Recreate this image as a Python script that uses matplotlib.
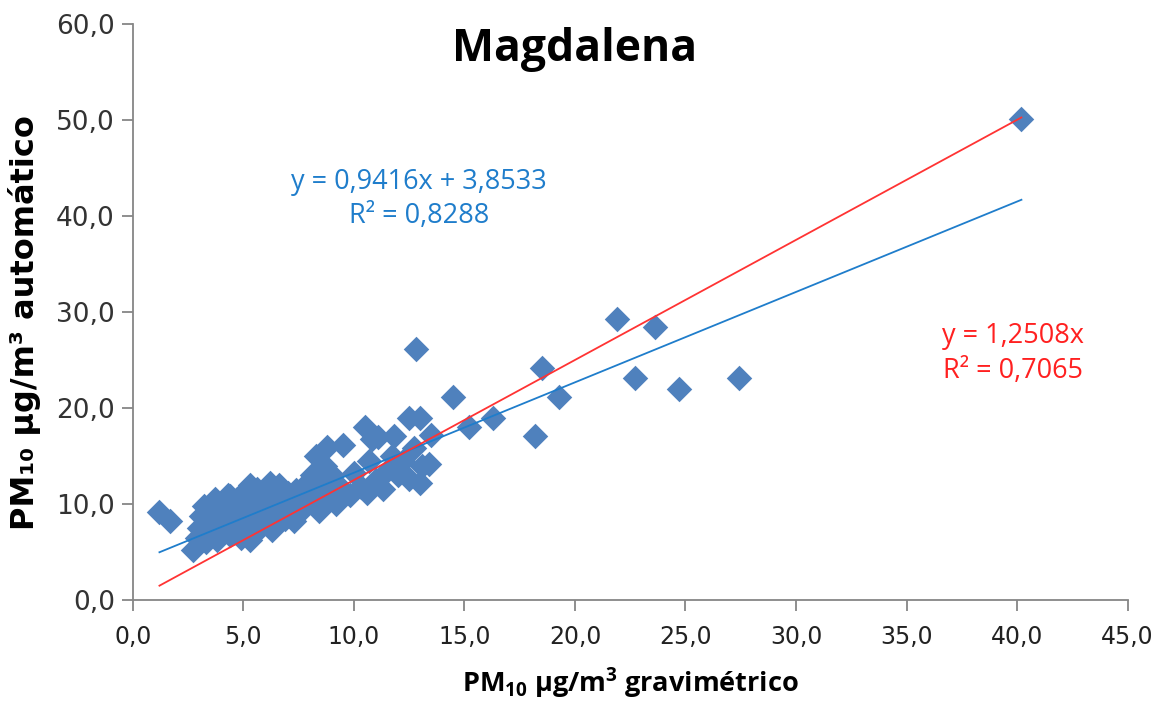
import numpy as np
import matplotlib
matplotlib.use('Agg')
import matplotlib.pyplot as plt

# PM10 gravimetric (x) vs automatic (y), Magdalena station
grav = [1.2, 1.7, 2.7, 2.9, 3.0, 3.1, 3.3, 3.4, 3.5, 3.6, 3.8, 3.9, 4.0, 4.1, 4.2, 4.3,
        4.4, 4.5, 4.6, 4.7, 4.8, 4.9, 5.0, 5.1, 5.2, 5.3, 5.3, 5.4, 5.5, 5.7, 5.8, 5.9,
        6.0, 6.1, 6.2, 6.3, 6.4, 6.5, 6.6, 6.8, 6.9, 7.0, 7.2, 7.3, 7.4, 7.5, 7.7, 7.8,
        8.0, 8.1, 8.2, 8.3, 8.4, 8.5, 8.6, 8.7, 8.8, 8.9, 9.0, 9.2, 9.3, 9.5, 9.8, 10.0,
        10.3, 10.5, 10.6, 10.7, 10.8, 11.0, 11.1, 11.3, 11.5, 11.7, 11.8, 12.0, 12.2,
        12.5, 12.5, 12.7, 13.0, 13.0, 13.1, 13.4, 13.5, 12.8, 14.5, 15.2, 16.3, 18.2,
        18.5, 19.3, 21.9, 22.7, 23.6, 24.7, 27.4, 40.2,
        3.2, 3.7, 4.4, 5.6, 6.7]
auto = [9.2, 8.2, 5.2, 6.5, 7.5, 8.8, 6.1, 7.2, 9.0, 8.0, 6.3, 7.5, 9.5, 10.2, 8.4, 11.0,
        6.8, 7.6, 9.0, 10.5, 8.2, 6.5, 11.2, 9.8, 7.3, 12.0, 6.3, 8.8, 10.6, 9.3, 7.6, 11.3,
        8.4, 10.0, 12.2, 7.3, 11.0, 9.0, 12.0, 10.3, 8.4, 11.2, 9.6, 8.2, 11.5, 10.5, 9.5, 12.0,
        10.8, 13.0, 11.8, 15.0, 9.3, 10.1, 12.5, 14.0, 16.0, 11.0, 13.0, 10.0, 12.0, 16.2, 11.0, 13.2,
        11.8, 18.0, 11.2, 14.5, 16.8, 12.5, 17.0, 11.6, 13.5, 15.0, 17.1, 13.0, 14.5,
        19.0, 12.6, 15.8, 19.0, 12.2, 14.0, 14.2, 17.2, 26.2, 21.2, 18.0, 19.0, 17.1,
        24.2, 21.2, 29.3, 23.1, 28.5, 22.0, 23.1, 50.1,
        9.8, 10.5, 10.8, 11.6, 11.7]

# trend lines as reported on the chart
lin_slope, lin_icpt = 0.9416, 3.8533
orig_slope = 1.2508

plt.rcParams['mathtext.fontset'] = 'custom'
plt.rcParams['mathtext.rm'] = 'Open Sans:bold'
plt.rcParams['mathtext.default'] = 'rm'

fig = plt.figure(figsize=(11.66, 7.11), dpi=100)
ax = fig.add_axes([0.114, 0.156, 0.853, 0.81])

ax.scatter(grav, auto, marker='D', s=13**2, color='#4F81BD', linewidths=0, zorder=2)

xx = np.array([min(grav), max(grav)])
ax.plot(xx, lin_slope * xx + lin_icpt, color='#1F7DCB', lw=1.3, zorder=3)
ax.plot(xx, orig_slope * xx, color='#FF3333', lw=1.3, zorder=3)

ax.set_xlim(0, 45)
ax.set_ylim(0, 60)
xt = np.arange(0, 46, 5)
yt = np.arange(0, 61, 10)
ax.set_xticks(xt)
ax.set_yticks(yt)
fmt = lambda v: ('%.1f' % v).replace('.', ',')
ax.set_xticklabels([fmt(v) for v in xt],
                   family=['Liberation Sans Narrow', 'DejaVu Sans'], fontsize=17, color='#222222')
ax.set_yticklabels([fmt(v) for v in yt],
                   family='DejaVu Sans', fontsize=19, color='#333333')
for s in ['top', 'right']:
    ax.spines[s].set_visible(False)
for s in ['left', 'bottom']:
    ax.spines[s].set_color('#868686')
    ax.spines[s].set_linewidth(1.3)
ax.tick_params(axis='both', direction='out', length=8, width=1.3, color='#868686')
ax.tick_params(axis='x', pad=10)
ax.tick_params(axis='y', pad=5)

ax.set_xlabel('PM$_{10}$ µg/m$^{3}$ gravimétrico', family='Open Sans',
              fontweight='bold', fontsize=19.5, labelpad=12)
fig.text(0.021, 0.547, 'PM₁₀ µg/m³ automático', rotation=90, ha='center', va='center',
         family='DejaVu Sans', fontweight='bold', fontsize=23)

fig.text(0.493, 0.93, 'Magdalena', ha='center', va='center', family='Open Sans',
         fontweight='bold', fontsize=32)

ax.text(12.95, 41.8, 'y = 0,9416x + 3,8533\nR² = 0,8288', ha='center', va='center',
        color='#1F7DCB', fontsize=19.5, family='Open Sans', linespacing=1.3)
ax.text(39.8, 25.7, 'y = 1,2508x\nR² = 0,7065', ha='center', va='center',
        color='#FF2020', fontsize=19.5, family='Open Sans', linespacing=1.3)

fig.savefig('out.png', dpi=100)
